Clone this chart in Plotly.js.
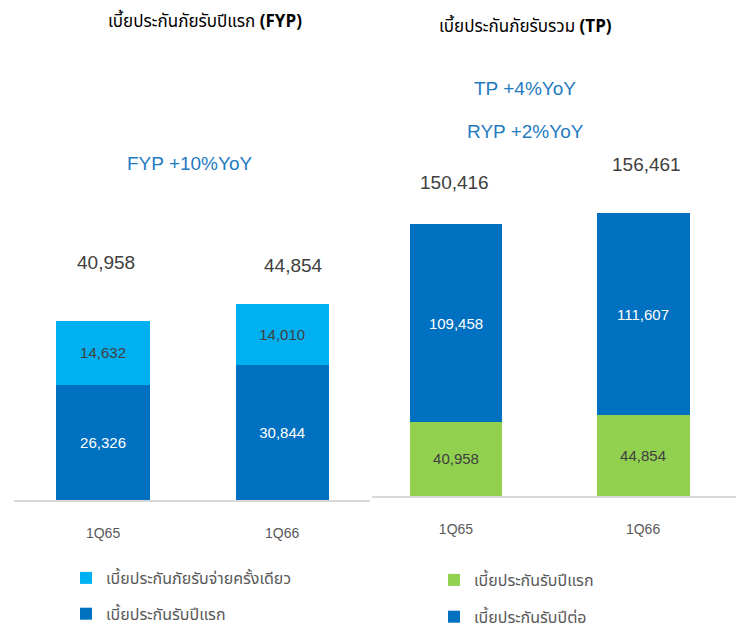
<!DOCTYPE html>
<html>
<head>
<meta charset="utf-8">
<script src="https://cdn.plot.ly/plotly-3.0.1.min.js"></script>
<style>html,body{margin:0;padding:0;background:#fff;}#chart{width:741px;height:631px;}</style>
</head>
<body>
<div id="chart"></div>
<script>
// ---- data ----
const quarters = ["1Q65", "1Q66"];
// left panel: First Year Premium
const fypRegular = [26326, 30844];      // เบี้ยประกันรับปีแรก
const fypSingle = [14632, 14010];       // เบี้ยประกันภัยรับจ่ายครั้งเดียว
const fypTotals = [40958, 44854];
// right panel: Total Premium
const tpFirstYear = [40958, 44854];     // เบี้ยประกันรับปีแรก
const tpRenewal = [109458, 111607];     // เบี้ยประกันรับปีต่อ
const tpTotals = [150416, 156461];
// texts
const leftTitle = "เบี้ยประกันภัยรับปีแรก <b>(FYP)</b>";
const rightTitle = "เบี้ยประกันภัยรับรวม <b>(TP)</b>";
const fypGrowth = "FYP +10%YoY";
const tpGrowth = "TP +4%YoY";
const rypGrowth = "RYP +2%YoY";
const legendNames = {
  single: "เบี้ยประกันภัยรับจ่ายครั้งเดียว",
  fyp: "เบี้ยประกันรับปีแรก",
  renewal: "เบี้ยประกันรับปีต่อ"
};

const fmt = v => v.toLocaleString("en-US");
const FONT = "Liberation Sans, Arial, Noto Sans, sans-serif";
const THAI = "Tahoma, Noto Sans Thai, Noto Sans, Liberation Sans, sans-serif";
const DARK = "#0070c0", LIGHT = "#00b0f0", GREEN = "#92d050";

const traces = [
  {type: "bar", x: quarters, y: fypRegular, name: legendNames.fyp, marker: {color: DARK},
   text: fypRegular.map(fmt), textposition: "inside", insidetextanchor: "middle",
   textfont: {color: "#ffffff", size: 15, family: FONT}, width: 0.52,
   xaxis: "x", yaxis: "y", legend: "legend", legendgroup: "a", legendrank: 2, hoverinfo: "skip"},
  {type: "bar", x: quarters, y: fypSingle, name: legendNames.single, marker: {color: LIGHT},
   text: fypSingle.map(fmt), textposition: "inside", insidetextanchor: "middle",
   textfont: {color: "#404040", size: 15, family: FONT}, width: 0.52,
   xaxis: "x", yaxis: "y", legend: "legend", legendgroup: "b", legendrank: 1, hoverinfo: "skip"},
  {type: "bar", x: quarters, y: tpFirstYear, name: legendNames.fyp, marker: {color: GREEN},
   text: tpFirstYear.map(fmt), textposition: "inside", insidetextanchor: "middle",
   textfont: {color: "#404040", size: 15, family: FONT}, width: 0.497,
   xaxis: "x2", yaxis: "y2", legend: "legend2", legendgroup: "c", legendrank: 1, hoverinfo: "skip"},
  {type: "bar", x: quarters, y: tpRenewal, name: legendNames.renewal, marker: {color: DARK},
   text: tpRenewal.map(fmt), textposition: "inside", insidetextanchor: "middle",
   textfont: {color: "#ffffff", size: 15, family: FONT}, width: 0.497,
   xaxis: "x2", yaxis: "y2", legend: "legend2", legendgroup: "d", legendrank: 2, hoverinfo: "skip"}
];

const W = 741, H = 631;
const leftTotalShift = [{x: 3, y: 59}, {x: 11, y: 38}];
const rightTotalShift = [{x: -1, y: 42}, {x: 3, y: 49}];

const annotations = [];
fypTotals.forEach((v, i) => annotations.push({
  xref: "x", yref: "y", x: quarters[i], y: v, text: fmt(v), showarrow: false,
  xanchor: "center", yanchor: "middle",
  xshift: leftTotalShift[i].x, yshift: leftTotalShift[i].y,
  font: {family: FONT, size: 19, color: "#404040"}
}));
tpTotals.forEach((v, i) => annotations.push({
  xref: "x2", yref: "y2", x: quarters[i], y: v, text: fmt(v), showarrow: false,
  xanchor: "center", yanchor: "middle",
  xshift: rightTotalShift[i].x, yshift: rightTotalShift[i].y,
  font: {family: FONT, size: 19, color: "#404040"}
}));
const paperNote = (px, py, text, font) => ({
  xref: "paper", yref: "paper", x: px / W, y: 1 - py / H, text: text, showarrow: false,
  xanchor: "center", yanchor: "middle", font: font
});
annotations.push(
  paperNote(205, 22, leftTitle, {family: THAI, size: 17, color: "#000"}),
  paperNote(525, 27, rightTitle, {family: THAI, size: 17, color: "#000"}),
  paperNote(190, 163, fypGrowth, {family: FONT, size: 19, color: "#1f7ac2"}),
  paperNote(525, 88, tpGrowth, {family: FONT, size: 19, color: "#1f7ac2"}),
  paperNote(525, 131, rypGrowth, {family: FONT, size: 19, color: "#1f7ac2"})
);

const xCommon = {type: "category", showgrid: false, zeroline: false, showline: true,
  linecolor: "#d9d9d9", linewidth: 2, ticks: "outside", ticklen: 19, tickcolor: "rgba(0,0,0,0)",
  tickfont: {family: FONT, size: 14, color: "#595959"}, fixedrange: true};
const yCommon = {visible: false, showgrid: false, zeroline: false, fixedrange: true};

const legendCommon = {orientation: "v", bgcolor: "rgba(0,0,0,0)",
  font: {family: THAI, size: 16, color: "#595959"}, xanchor: "left", yanchor: "top"};

const layout = {
  width: W, height: H,
  margin: {l: 0, r: 0, t: 0, b: 0, autoexpand: false},
  paper_bgcolor: "#fff", plot_bgcolor: "rgba(0,0,0,0)",
  barmode: "stack",
  showlegend: true,
  xaxis: Object.assign({}, xCommon, {domain: [14 / W, 370 / W], range: [-0.497, 1.49], anchor: "y"}),
  yaxis: Object.assign({}, yCommon, {domain: [131 / H, 1], range: [0, 114416], anchor: "x"}),
  xaxis2: Object.assign({}, xCommon, {domain: [372 / W, 736 / W], range: [-0.449, 1.497], anchor: "y2"}),
  yaxis2: Object.assign({}, yCommon, {domain: [135 / H, 1], range: [0, 274336], anchor: "x2"}),
  legend: Object.assign({}, legendCommon, {x: 66 / W, y: 1 - 561 / H, traceorder: "grouped", tracegroupgap: 12}),
  legend2: Object.assign({}, legendCommon, {x: 434 / W, y: 1 - 563 / H, traceorder: "grouped", tracegroupgap: 13}),
  annotations: annotations
};

Plotly.newPlot("chart", traces, layout, {displayModeBar: false, staticPlot: true});
</script>
</body>
</html>
